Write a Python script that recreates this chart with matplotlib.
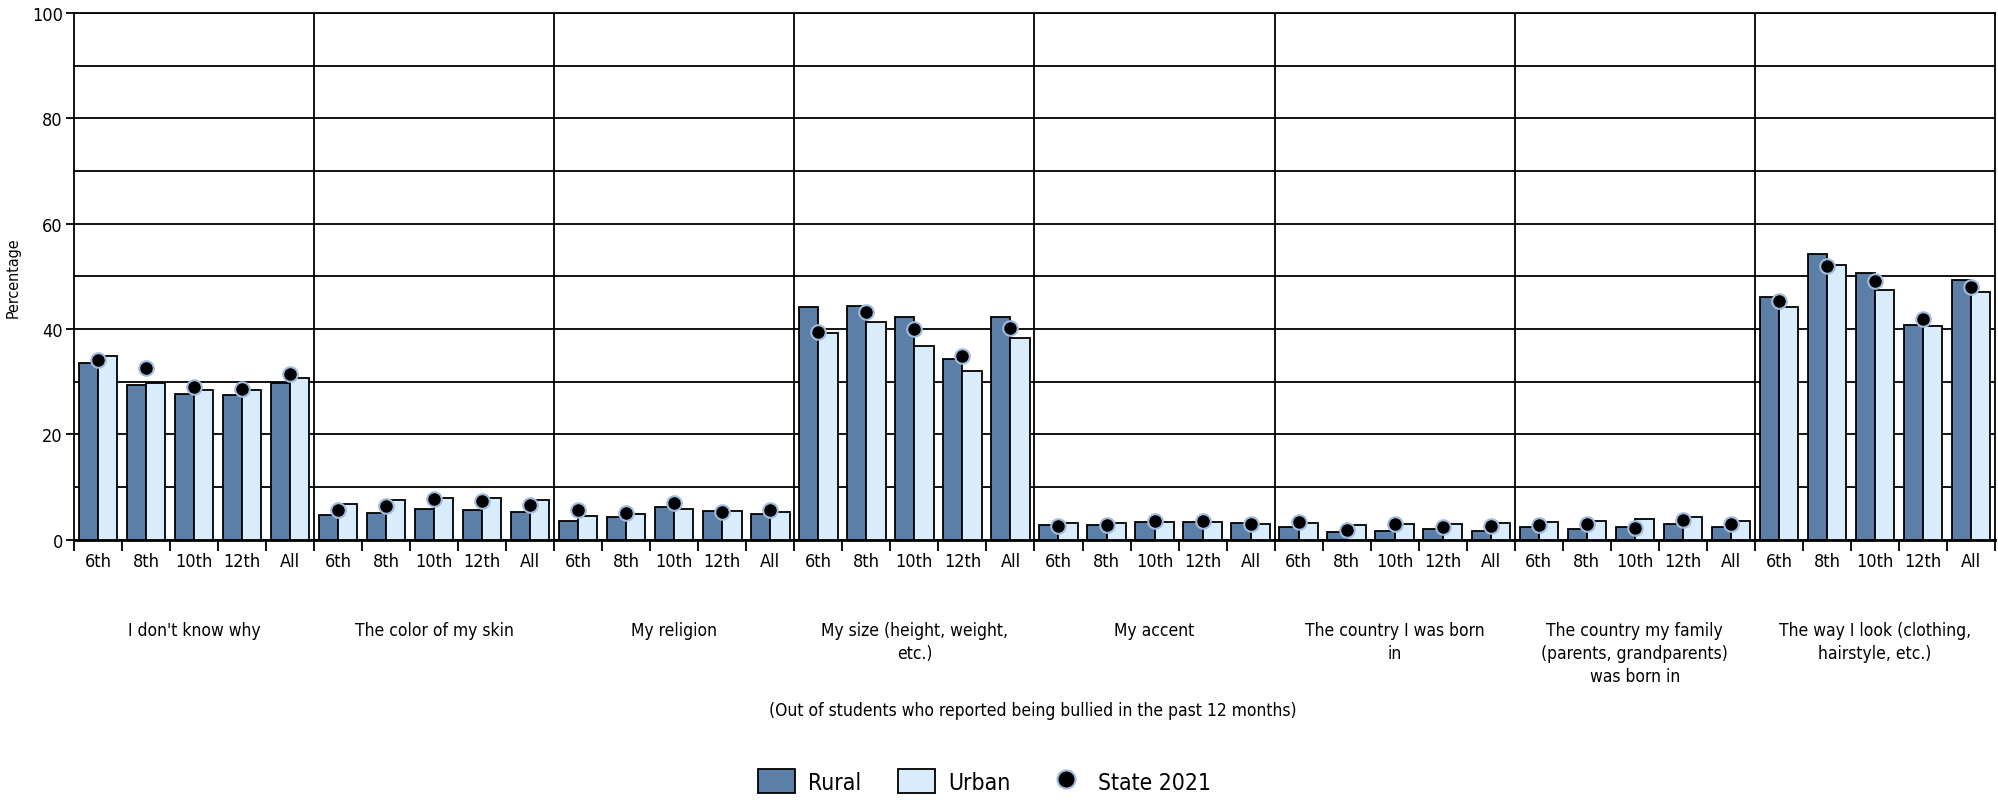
import numpy as np
import matplotlib.pyplot as plt
from matplotlib.lines import Line2D
from matplotlib.patches import Patch

plt.rcParams['font.family'] = ['DejaVu Sans']
plt.rcParams['font.stretch'] = 'condensed'

categories = ["I don't know why", "The color of my skin", "My religion",
              "My size (height, weight,\netc.)", "My accent",
              "The country I was born\nin",
              "The country my family\n(parents, grandparents)\nwas born in",
              "The way I look (clothing,\nhairstyle, etc.)"]
grades = ['6th', '8th', '10th', '12th', 'All']

rural = [33.6, 29.4, 27.7, 27.4, 29.7,
         4.6, 5.0, 5.9, 5.6, 5.2,
         3.6, 4.2, 6.2, 5.5, 4.8,
         44.1, 44.4, 42.2, 34.3, 42.2,
         2.7, 2.7, 3.3, 3.3, 3.1,
         2.3, 1.4, 1.7, 2.0, 1.7,
         2.3, 2.0, 2.3, 3.0, 2.3,
         46.0, 54.2, 50.6, 40.8, 49.3]
urban = [34.8, 29.7, 28.4, 28.4, 30.7,
         6.8, 7.5, 7.9, 7.9, 7.5,
         4.5, 4.8, 5.9, 5.5, 5.2,
         39.2, 41.3, 36.7, 32.1, 38.3,
         3.1, 3.1, 3.3, 3.3, 3.0,
         3.1, 2.7, 3.0, 3.0, 3.1,
         3.3, 3.6, 3.9, 4.2, 3.6,
         44.1, 52.2, 47.4, 40.5, 47.0]
state = [34.1, 32.5, 29.0, 28.6, 31.5,
         5.7, 6.4, 7.7, 7.3, 6.6,
         5.6, 5.0, 6.9, 5.2, 5.6,
         39.4, 43.2, 39.9, 34.8, 40.1,
         2.5, 2.7, 3.5, 3.6, 3.0,
         3.3, 1.9, 3.0, 2.3, 2.5,
         2.8, 3.0, 2.2, 3.8, 3.0,
         45.4, 51.9, 49.2, 41.8, 47.9]

c_rural = '#5b7fa7'
c_urban = '#d9ecfb'

n = len(categories) * len(grades)
x = np.arange(n) + 0.5

fig = plt.figure(figsize=(19.99, 8.04), dpi=100)
ax = fig.add_axes([0.037, 0.3276, 0.961, 0.655])

ax.set_axisbelow(True)
ax.bar(x - 0.2, rural, width=0.4, color=c_rural, edgecolor='black', linewidth=1.3, zorder=3)
ax.bar(x + 0.2, urban, width=0.4, color=c_urban, edgecolor='black', linewidth=1.3, zorder=3)
ax.scatter(x, state, s=110, color='black', edgecolors='#9fbbdf', linewidths=1.5, zorder=5)

ax.set_xlim(0, n)
ax.set_ylim(0, 100)

# horizontal grid every 10, labels every 20
ax.set_yticks(np.arange(0, 101, 20))
ax.set_yticks(np.arange(0, 101, 10), minor=True)
ax.yaxis.grid(True, which='both', color='black', linewidth=1.3)
ax.tick_params(axis='y', which='major', length=6, width=1.3, labelsize=13, pad=2)
ax.tick_params(axis='y', which='minor', length=0)

# category dividers
for g in range(1, len(categories)):
    ax.axvline(g * len(grades), color='black', linewidth=1.3, zorder=1)

ax.set_xticks(np.arange(0, n + 1))
ax.set_xticklabels([])
ax.set_xticks(x, minor=True)
ax.set_xticklabels(grades * len(categories), minor=True)
ax.tick_params(axis='x', which='major', length=8, width=1.3)
ax.tick_params(axis='x', which='minor', length=0, labelsize=13, pad=9)

for s in ax.spines.values():
    s.set_linewidth(1.3)
    s.set_color('black')
ax.spines['bottom'].set_linewidth(2)

for g, cat in enumerate(categories):
    ax.text(g * len(grades) + len(grades) / 2, -0.155, cat, transform=ax.get_xaxis_transform(),
            ha='center', va='top', fontsize=12.5, linespacing=1.35)

ax.set_ylabel('Percentage', fontsize=11.5, labelpad=8)

fig.text(0.5165, 0.1157, '(Out of students who reported being bullied in the past 12 months)',
         ha='center', va='center', fontsize=12.5)

handles = [Patch(facecolor=c_rural, edgecolor='black', linewidth=1.3),
           Patch(facecolor=c_urban, edgecolor='black', linewidth=1.3),
           Line2D([], [], marker='o', linestyle='', markersize=13, markerfacecolor='black',
                  markeredgecolor='#9fbbdf', markeredgewidth=1.5)]
fig.legend(handles, ['Rural', 'Urban', 'State 2021'], loc='center', bbox_to_anchor=(0.4925, 0.027),
           ncol=3, frameon=False, fontsize=16.5, handlelength=1.6, handleheight=1.25,
           columnspacing=1.6, handletextpad=0.6)

fig.savefig('out.png', dpi=100)
